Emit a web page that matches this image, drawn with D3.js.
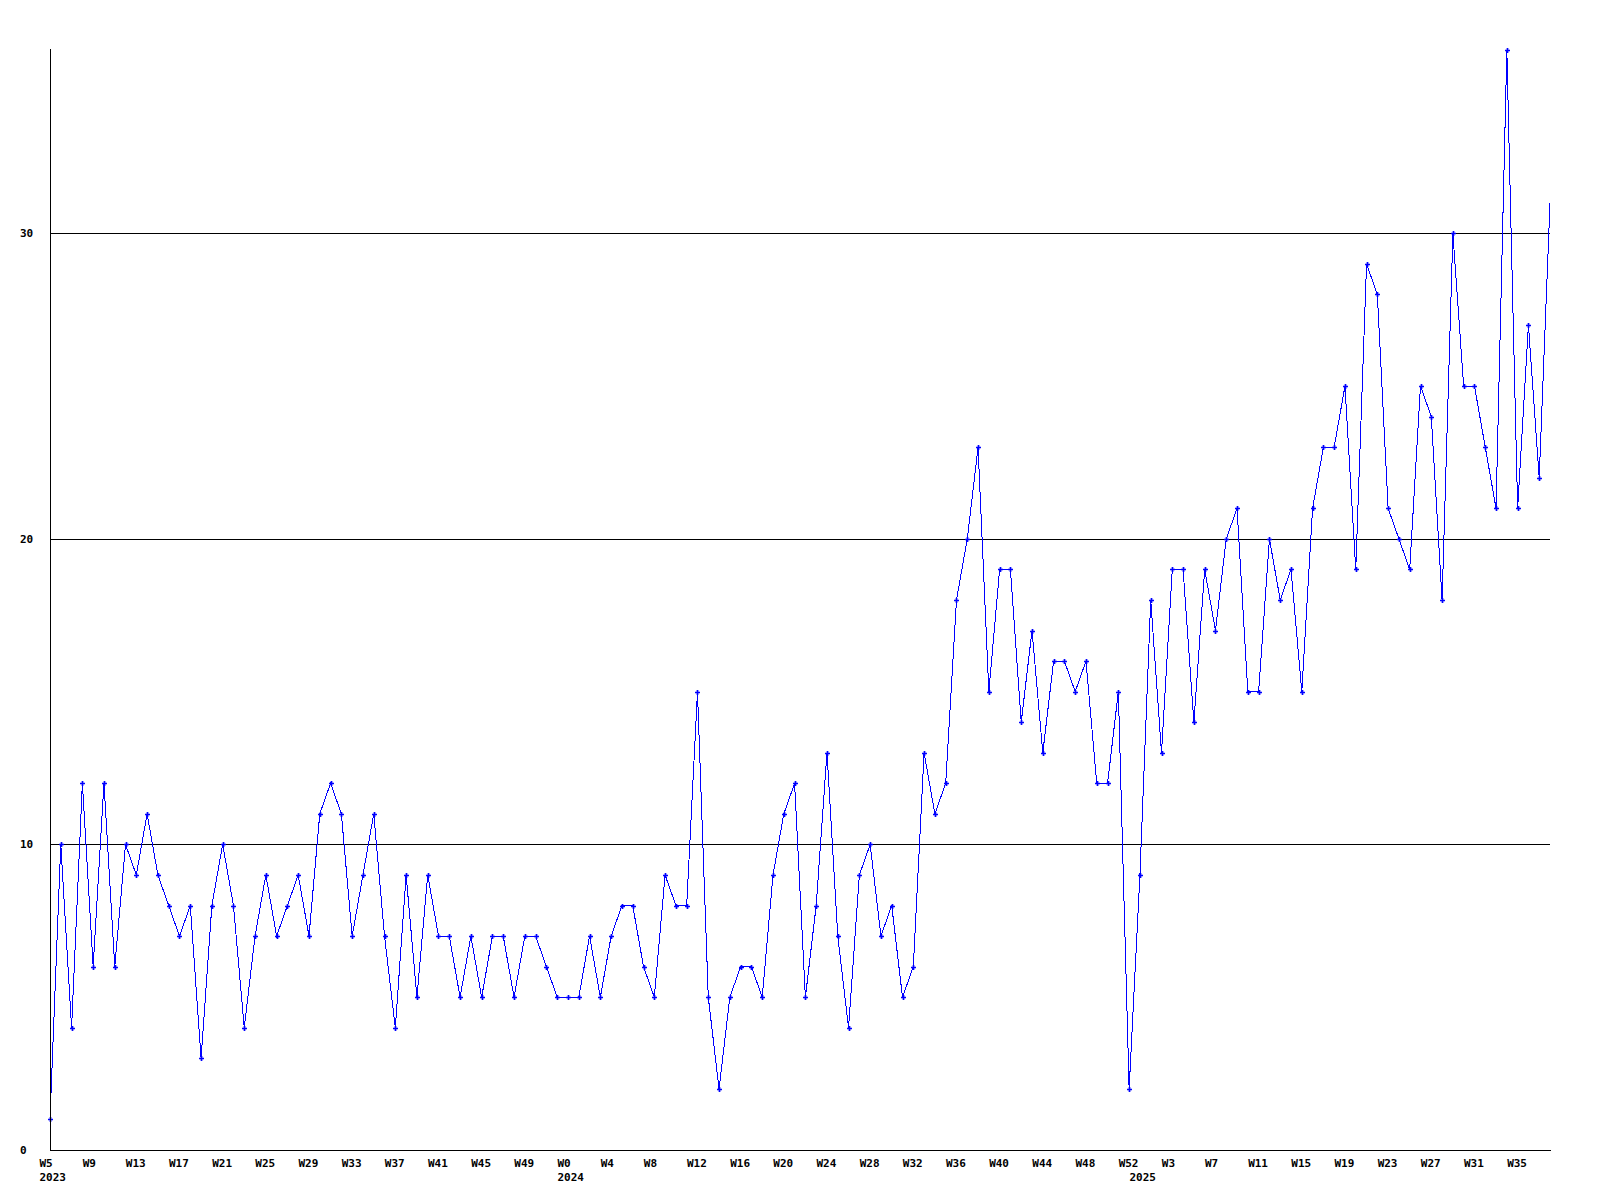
<!DOCTYPE html>
<html>
<head>
<meta charset="utf-8">
<script src="https://cdn.jsdelivr.net/npm/d3@7"></script>
<style>
  html, body { margin: 0; padding: 0; background: #ffffff; }
  svg { display: block; }
  text { font-family: "DejaVu Sans Mono", "Liberation Mono", monospace; font-weight: bold; font-size: 11px; fill: #000; }
</style>
</head>
<body>
<script>
// ---- data ----
const years = [2023, 2024, 2025];
const yearFirstWeek = [5, 0, 0];
const yearLastWeek = [52, 52, 38];
const values = [
  1,10,4,12,6,12,6,10,9,11,
  9,8,7,8,3,8,10,8,4,7,
  9,7,8,9,7,11,12,11,7,9,
  11,7,4,9,5,9,7,7,5,7,
  5,7,7,5,7,7,6,5,5,5,
  7,5,7,8,8,6,5,9,8,8,
  15,5,2,5,6,6,5,9,11,12,
  5,8,13,7,4,9,10,7,8,5,
  6,13,11,12,18,20,23,15,19,19,
  14,17,13,16,16,15,16,12,12,15,
  2,9,18,13,19,19,14,19,17,20,
  21,15,15,20,18,19,15,21,23,23,
  25,19,29,28,21,20,19,25,24,18,
  30,25,25,23,21,36,21,27,22,31
];
const yTicks = [0, 10, 20, 30];
const yMax = 36;
const tickEvery = 4;

// categories (week + year) built from the year segments
const categories = [];
years.forEach((yr, i) => {
  for (let w = yearFirstWeek[i]; w <= yearLastWeek[i]; w++) {
    categories.push({ year: yr, week: w, label: "W" + w, firstOfYear: w === yearFirstWeek[i] });
  }
});
const data = categories.map((c, i) => ({ ...c, i, v: values[i] }));

// ---- layout ----
const W = 1600, H = 1200;
const mLeft = 50, mRight = 1550, mTop = 50, mBottom = 1150;

const svg = d3.select("body").append("svg").attr("width", W).attr("height", H);
svg.append("rect").attr("width", W).attr("height", H).attr("fill", "#fff");

const x = d3.scaleLinear().domain([0, data.length - 1]).range([mLeft, mRight]);
const y = d3.scaleLinear().domain([0, yMax]).range([mBottom, mTop]);

// grid lines
svg.append("g").selectAll("line").data(yTicks.filter(t => t > 0)).join("line")
  .attr("x1", mLeft).attr("x2", mRight)
  .attr("y1", d => Math.round(y(d)) + 0.5).attr("y2", d => Math.round(y(d)) + 0.5)
  .attr("stroke", "#000").attr("stroke-width", 1).attr("shape-rendering", "crispEdges");

// y labels
svg.append("g").selectAll("text").data(yTicks).join("text")
  .attr("x", 20).attr("y", d => Math.round(y(d)) + 4)
  .text(d => d);

// line
const line = d3.line().x(d => x(d.i)).y(d => y(d.v));
svg.append("path").datum(data)
  .attr("d", line)
  .attr("fill", "none").attr("stroke", "#0000ff").attr("stroke-width", 1)
  .attr("shape-rendering", "crispEdges");

// markers (last point's marker is not drawn in the reference)
svg.append("g").selectAll("path").data(data.slice(0, data.length - 1)).join("path")
  .attr("d", d => {
    const px = Math.round(x(d.i)) + 0.5, py = Math.round(y(d.v)) + 0.5;
    return `M${px - 2.5},${py}h5M${px},${py - 2.5}v5`;
  })
  .attr("stroke", "#0000ff").attr("stroke-width", 1.7).attr("fill", "none");

// axes
svg.append("line").attr("x1", mLeft + 0.5).attr("x2", mLeft + 0.5).attr("y1", 49).attr("y2", mBottom + 0.5)
  .attr("stroke", "#000").attr("stroke-width", 1).attr("shape-rendering", "crispEdges");
svg.append("line").attr("x1", mLeft).attr("x2", mRight + 1).attr("y1", mBottom + 0.5).attr("y2", mBottom + 0.5)
  .attr("stroke", "#000").attr("stroke-width", 1).attr("shape-rendering", "crispEdges");

// x labels
const xl = svg.append("g");
xl.selectAll("text.wk").data(data.filter(d => d.i % tickEvery === 0)).join("text")
  .attr("class", "wk")
  .attr("x", d => x(d.i) - 10.5).attr("y", 1166.5)
  .text(d => d.label);
xl.selectAll("text.yr").data(data.filter(d => d.firstOfYear)).join("text")
  .attr("class", "yr")
  .attr("x", d => x(d.i) - 10.5).attr("y", 1180.5)
  .text(d => d.year);
</script>
</body>
</html>
